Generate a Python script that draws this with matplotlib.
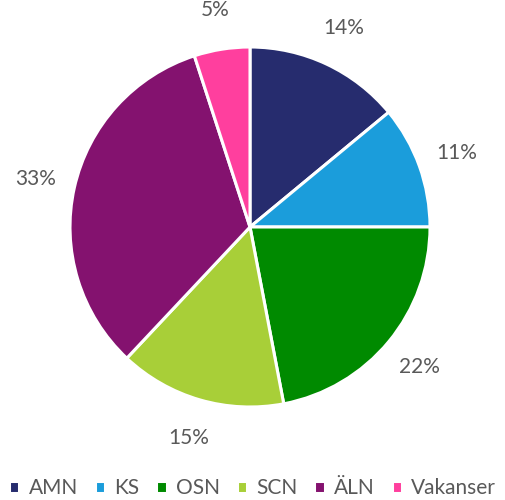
import matplotlib.pyplot as plt

# Data
kategorier = ['AMN', 'KS', 'OSN', 'SCN', 'ÄLN', 'Vakanser']
andelar = [14, 11, 22, 15, 33, 5]
farger = ['#262C6E', '#1B9DDB', '#008A00', '#A8CF38', '#84126F', '#FF3F9E']

plt.rcParams['font.family'] = ['Lato', 'DejaVu Sans']

fig = plt.figure(figsize=(5.05, 5.0), dpi=100)
# pie centre ~ (250, 227) px, radius ~ 180 px
ax = fig.add_axes([70 / 505, (500 - 227 - 180) / 500, 360 / 505, 360 / 500])

wedges, texts, autotexts = ax.pie(
    andelar, colors=farger, startangle=90, counterclock=False,
    autopct='%1.0f%%', pctdistance=1.22,
    wedgeprops=dict(edgecolor='white', linewidth=2.2),
    textprops=dict(color='#595959', fontsize=15))
ax.set_xlim(-1, 1)
ax.set_ylim(-1, 1)
ax.set_aspect('equal')

fig.legend(wedges, kategorier, loc='center', bbox_to_anchor=(0.5, 1 - 488 / 500),
           ncol=6, frameon=False, fontsize=15, labelcolor='#595959',
           handlelength=0.5, handleheight=0.5, handletextpad=0.45,
           columnspacing=0.8, borderaxespad=0, borderpad=0)

fig.savefig('out.png', dpi=100)
